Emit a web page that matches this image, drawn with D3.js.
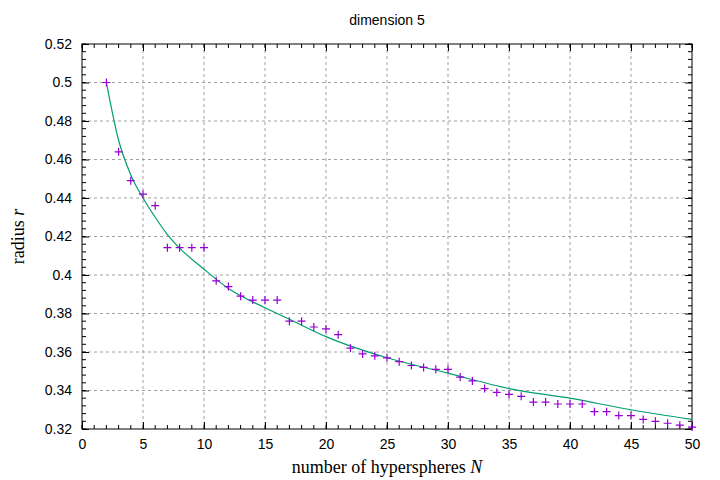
<!DOCTYPE html><html><head><meta charset="utf-8"><script src="https://cdn.jsdelivr.net/npm/d3@7"></script>
<style>body{margin:0;background:#fff}</style></head><body><svg id="c" width="720" height="480"></svg><script>
const nValues=[2,3,4,5,6,7,8,9,10,11,12,13,14,15,16,17,18,19,20,21,22,23,24,25,26,27,28,29,30,31,32,33,34,35,36,37,38,39,40,41,42,43,44,45,46,47,48,49,50];
const radii=[0.5,0.464,0.449,0.442,0.436,0.4142,0.4142,0.4142,0.4142,0.397,0.394,0.389,0.387,0.387,0.387,0.376,0.376,0.373,0.372,0.369,0.362,0.359,0.358,0.357,0.355,0.353,0.352,0.351,0.351,0.347,0.345,0.341,0.339,0.338,0.337,0.334,0.334,0.333,0.333,0.333,0.329,0.329,0.327,0.327,0.325,0.324,0.323,0.322,0.321];
const fitN=[2,3,4,5,6,7,8,10,12,15,17,20,25,30,35,40,45,50];
const fitR=[0.5,0.47,0.452,0.44,0.43,0.421,0.414,0.403,0.393,0.383,0.377,0.368,0.357,0.349,0.341,0.336,0.330,0.325];
const xTicks=[0,5,10,15,20,25,30,35,40,45,50];
const yTicks=[0.32,0.34,0.36,0.38,0.4,0.42,0.44,0.46,0.48,0.5,0.52];
const svg=d3.select("#c");
const L=82,R=692,T=44,B=429;
const x=d3.scaleLinear().domain([0,50]).range([L,R]);
const y=d3.scaleLinear().domain([0.32,0.52]).range([B,T]);
const g=svg.append("g");
// grid
g.selectAll(".gx").data(xTicks.slice(1,-1)).join("line").attr("x1",d=>x(d)).attr("x2",d=>x(d)).attr("y1",T).attr("y2",B).attr("stroke","#a0a0a0").attr("stroke-dasharray","3,3");
g.selectAll(".gy").data(yTicks.slice(1,-1)).join("line").attr("y1",d=>y(d)).attr("y2",d=>y(d)).attr("x1",L).attr("x2",R).attr("stroke","#a0a0a0").attr("stroke-dasharray","3,3");
// axes
const fmt=d=>String(+d.toFixed(2));
const ax=[
 [d3.axisBottom(x).tickValues(xTicks).tickFormat(fmt),`translate(0,${B})`],
 [d3.axisTop(x).tickValues(xTicks).tickFormat(""),`translate(0,${T})`],
 [d3.axisLeft(y).tickValues(yTicks).tickFormat(fmt),`translate(${L},0)`],
 [d3.axisRight(y).tickValues(yTicks).tickFormat(""),`translate(${R},0)`]];
ax.forEach(([a,t])=>{const s=svg.append("g").attr("transform",t).call(a.tickSizeInner(-7).tickSizeOuter(0).tickPadding(10));
 s.selectAll("text").attr("font-family","Liberation Sans, Arial").attr("font-size",14).attr("fill","#000");
 s.select(".domain").remove();});
const minorX=d3.range(0,51,1), minorY=d3.range(0,51).map(i=>0.32+i*0.004);
[[B,-4],[T,4]].forEach(([yy,d])=>g.selectAll(null).data(minorX).join("line").attr("x1",v=>x(v)).attr("x2",v=>x(v)).attr("y1",yy).attr("y2",yy+d).attr("stroke","#000"));
[[L,4],[R,-4]].forEach(([xx,d])=>g.selectAll(null).data(minorY).join("line").attr("y1",v=>y(v)).attr("y2",v=>y(v)).attr("x1",xx).attr("x2",xx+d).attr("stroke","#000"));
svg.append("rect").attr("x",L).attr("y",T).attr("width",R-L).attr("height",B-T).attr("fill","none").attr("stroke","#000");
// curve
svg.append("path").datum(fitN.map((n,i)=>[n,fitR[i]])).attr("d",d3.line().x(d=>x(d[0])).y(d=>y(d[1])).curve(d3.curveMonotoneX)).attr("fill","none").attr("stroke","#009e73").attr("stroke-width",1.2);
// points
svg.selectAll(".p").data(nValues.map((n,i)=>[n,radii[i]])).join("path").attr("d",d=>`M${x(d[0])-4},${y(d[1])}h8M${x(d[0])},${y(d[1])-4}v8`).attr("stroke","#9400d3").attr("stroke-width",1.2);
svg.append("text").attr("x",387).attr("y",25).attr("text-anchor","middle").attr("font-family","Liberation Sans, Arial").attr("font-size",14).text("dimension 5");
const xl=svg.append("text").attr("x",387).attr("y",473).attr("text-anchor","middle").attr("font-family","Liberation Serif, Times New Roman").attr("font-size",18);
xl.append("tspan").text("number of hyperspheres ");xl.append("tspan").attr("font-style","italic").text("N");
const yl=svg.append("text").attr("transform",`translate(24,${(T+B)/2}) rotate(-90)`).attr("text-anchor","middle").attr("font-family","Liberation Serif, Times New Roman").attr("font-size",18);
yl.append("tspan").text("radius ");yl.append("tspan").attr("font-style","italic").text("r");
</script></body></html>
